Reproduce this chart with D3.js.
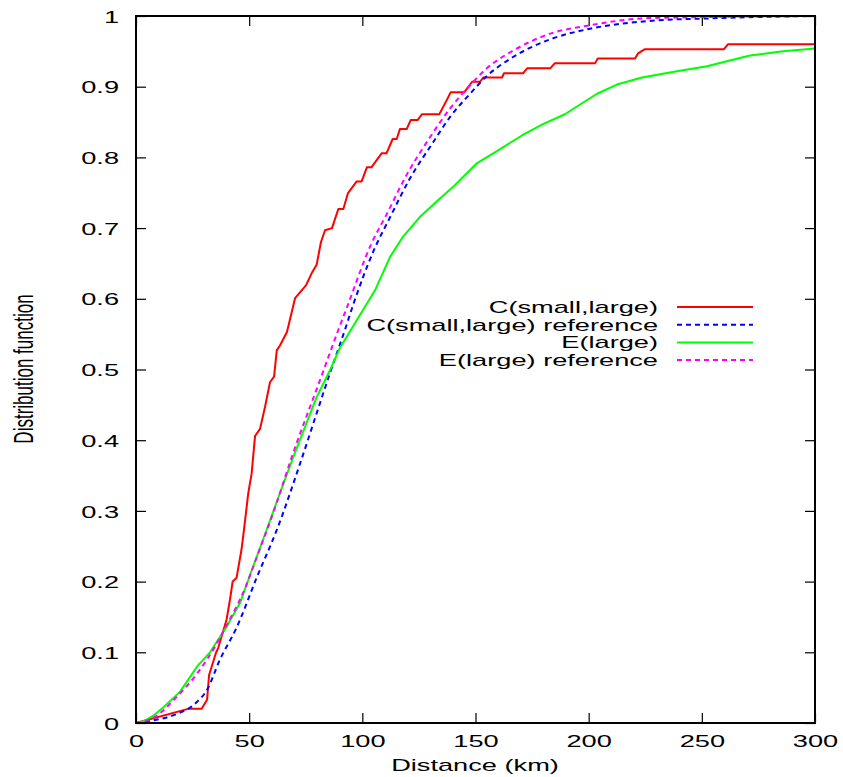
<!DOCTYPE html>
<html>
<head>
<meta charset="utf-8">
<script src="https://cdn.jsdelivr.net/npm/d3@7"></script>
<style>
  body { margin: 0; background: #fff; }
  text { font-family: "Liberation Sans", Arial, sans-serif; font-size: 17px; fill: #000; }
</style>
</head>
<body>
<svg width="843" height="777"></svg>
<script>
// dati (distanza km, funzione di distribuzione)
const cSmallLarge = [
  [0,0],[23,0.02],[29,0.02],[31.4,0.033],[32.3,0.068],[35.3,0.099],[36.3,0.106],[40,0.146],
  [41.5,0.174],[42.7,0.2],[44.4,0.205],[46.6,0.245],[47.7,0.273],[49.6,0.325],[51.1,0.353],
  [52.6,0.406],[54.8,0.416],[57,0.447],[59.2,0.482],[61,0.49],[62.2,0.527],[63.6,0.534],
  [66.7,0.553],[70.3,0.601],[75.1,0.619],[77.6,0.636],[79.8,0.648],[81.7,0.68],[83.5,0.697],
  [86.6,0.7],[89.4,0.727],[91.6,0.727],[93.6,0.749],[97.5,0.766],[99.7,0.766],[102,0.786],
  [104,0.786],[108.6,0.806],[110.7,0.806],[113.4,0.826],[115.2,0.826],[116.6,0.84],[119.6,0.84],
  [121.4,0.853],[124.5,0.853],[126.3,0.861],[134,0.861],[137.3,0.881],[139,0.892],[145,0.892],
  [148.5,0.907],[152,0.907],[153.4,0.913],[161.7,0.913],[162.6,0.919],[171,0.919],[172.8,0.926],
  [183,0.926],[185,0.933],[202.8,0.933],[204,0.94],[220.5,0.94],[221.8,0.947],[224.9,0.953],
  [259.8,0.953],[261.5,0.96],[300,0.96]
];
const cSmallLargeRef = [
  [0,0],[23,0.02],[27,0.03],[31.4,0.047],[37,0.089],[44.6,0.136],[53.5,0.207],[62.2,0.273],
  [72.5,0.367],[79.8,0.438],[85.7,0.495],[92.3,0.556],[96,0.592],[105,0.668],[112.2,0.715],
  [121,0.77],[131.2,0.821],[138.7,0.857],[147.6,0.89],[155,0.915],[166.6,0.942],[183,0.967],
  [200.6,0.982],[227,0.993],[256.7,0.997],[300,1]
];
const eLarge = [
  [0,0],[3,0.002],[7.5,0.01],[12,0.022],[19.4,0.044],[27,0.08],[32.7,0.1],[40,0.136],[46,0.17],
  [51.7,0.221],[57.7,0.273],[63,0.32],[69.5,0.376],[79.8,0.461],[85.7,0.499],[90,0.53],
  [105.6,0.612],[112.2,0.659],[118,0.688],[125.5,0.716],[134.3,0.742],[140,0.758],[150.7,0.792],
  [160,0.81],[170.5,0.831],[179.8,0.847],[189.5,0.861],[194.8,0.872],[203.7,0.89],[212.5,0.903],
  [223.6,0.913],[239,0.922],[252.3,0.929],[261,0.936],[271.3,0.944],[285.9,0.95],[300,0.954]
];
const eLargeRef = [
  [0,0],[7.5,0.007],[18,0.037],[27,0.07],[35.8,0.113],[40,0.138],[47.3,0.184],[54,0.24],[62,0.31],
  [68.8,0.376],[81.3,0.485],[89.4,0.556],[93.2,0.588],[104,0.678],[110.5,0.718],[119.7,0.776],
  [130,0.829],[138.7,0.869],[147.6,0.902],[155,0.926],[166.6,0.951],[183,0.975],[200.6,0.987],
  [227,0.997],[300,1]
];

const xTicks = [0, 50, 100, 150, 200, 250, 300];
const yTicks = [0, 0.1, 0.2, 0.3, 0.4, 0.5, 0.6, 0.7, 0.8, 0.9, 1];
const yTickLabels = ["0", "0.1", "0.2", "0.3", "0.4", "0.5", "0.6", "0.7", "0.8", "0.9", "1"];
const seriesNames = ["C(small,large)", "C(small,large) reference", "E(large)", "E(large) reference"];

const svg = d3.select("svg");
const plotLeft = 136, plotRight = 815, plotTop = 16, plotBottom = 723;
const sx = 1.6; // il testo originale e' stirato in orizzontale

const x = d3.scaleLinear().domain([0, 300]).range([plotLeft, plotRight]);
const y = d3.scaleLinear().domain([0, 1]).range([plotBottom, plotTop]);

const series = [
  { name: seriesNames[0], data: cSmallLarge, color: "#ff0000", dash: null, smooth: false },
  { name: seriesNames[1], data: cSmallLargeRef, color: "#0000ff", dash: "5,4", smooth: true },
  { name: seriesNames[2], data: eLarge, color: "#00ff00", dash: null, smooth: false },
  { name: seriesNames[3], data: eLargeRef, color: "#ff00ff", dash: "5,4", smooth: true }
];

// assi con tacche verso l'interno
const xAxis = svg.append("g").attr("transform", `translate(0,${plotBottom})`)
  .call(d3.axisBottom(x).tickValues(xTicks).tickSize(-10).tickFormat(d3.format("d")));
const yAxis = svg.append("g").attr("transform", `translate(${plotLeft},0)`)
  .call(d3.axisLeft(y).tickValues(yTicks).tickSize(-10)
    .tickFormat((d, i) => yTickLabels[i]));
svg.append("g").attr("transform", `translate(0,${plotTop})`)
  .call(d3.axisTop(x).tickValues(xTicks).tickSize(-10).tickFormat(""));
svg.append("g").attr("transform", `translate(${plotRight},0)`)
  .call(d3.axisRight(y).tickValues(yTicks).tickSize(-10).tickFormat(""));

svg.selectAll(".domain").remove();
svg.selectAll(".tick line").attr("stroke", "#000").attr("stroke-width", 1.2);
svg.selectAll(".tick text")
  .attr("font-family", "Liberation Sans, Arial, sans-serif")
  .attr("font-size", 17)
  .attr("fill", "#000")
  .attr("transform", `scale(${sx},1)`);
xAxis.selectAll(".tick text").attr("dy", "0.71em").attr("y", 12);
yAxis.selectAll(".tick text").attr("x", -10.6).attr("dy", "0.36em");

// linee (le curve di riferimento sono lisce)
const line = d3.line().x(d => x(d[0])).y(d => y(d[1]));
const smoothLine = d3.line().x(d => x(d[0])).y(d => y(d[1])).curve(d3.curveMonotoneX);
svg.selectAll(".series")
  .data(series)
  .join("path")
  .attr("class", "series")
  .attr("d", d => d.smooth ? smoothLine(d.data) : line(d.data))
  .attr("fill", "none")
  .attr("stroke", d => d.color)
  .attr("stroke-width", 2)
  .attr("stroke-linejoin", "round")
  .attr("stroke-dasharray", d => d.dash);

// cornice
svg.append("rect")
  .attr("x", plotLeft).attr("y", plotTop)
  .attr("width", plotRight - plotLeft).attr("height", plotBottom - plotTop)
  .attr("fill", "none").attr("stroke", "#000").attr("stroke-width", 2);

// legenda
const legend = svg.selectAll(".legend")
  .data(series)
  .join("g")
  .attr("class", "legend")
  .attr("transform", (d, i) => `translate(0,${307 + i * 17.7})`);
legend.append("text")
  .attr("transform", `translate(658,6) scale(${sx},1)`)
  .attr("text-anchor", "end")
  .text(d => d.name);
legend.append("line")
  .attr("x1", 677).attr("x2", 753)
  .attr("stroke", d => d.color)
  .attr("stroke-width", 2)
  .attr("stroke-dasharray", d => d.dash);

// etichette degli assi
svg.append("text")
  .attr("transform", `translate(475,771) scale(${sx},1)`)
  .attr("text-anchor", "middle")
  .text("Distance (km)");
svg.append("text")
  .attr("transform", `translate(33,369) scale(${sx},1) rotate(-90)`)
  .attr("text-anchor", "middle")
  .text("Distribution function");
</script>
</body>
</html>
